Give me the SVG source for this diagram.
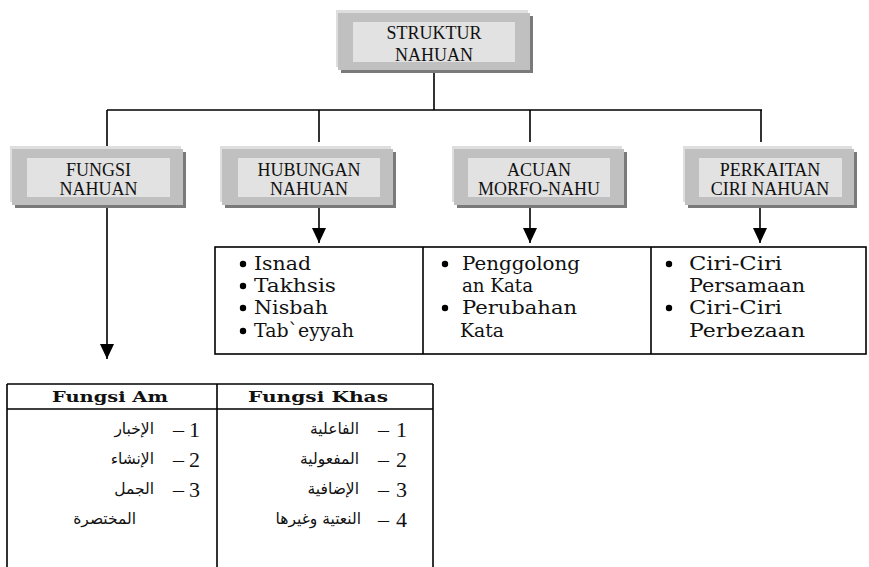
<svg xmlns="http://www.w3.org/2000/svg" width="869" height="567" viewBox="0 0 869 567">
<style>
.hl{fill:#dedede}
.md{fill:#c0c0c0}
.sh{fill:#7a7a7a}
.in{fill:#e2e2e2}
.bt{font-family:"Liberation Serif","Times New Roman",serif;font-size:18px;fill:#111;text-anchor:middle}
.ln{stroke:#000;stroke-width:1.6;fill:none}
.li{font-family:"DejaVu Serif",serif;font-size:18px;fill:#111}
.th{font-family:"DejaVu Serif",serif;font-size:15.5px;font-weight:bold;fill:#111;text-anchor:middle}
.num{font-family:"Liberation Serif",serif;font-size:22px;fill:#111;text-anchor:end}
.ar{font-family:"DejaVu Sans",sans-serif;font-size:15.5px;fill:#111;text-anchor:end}
.bl{fill:#000}
</style>
<defs>
<marker id="ah" viewBox="0 -7 15 14" refX="15" refY="0" markerWidth="15" markerHeight="14" markerUnits="userSpaceOnUse" orient="auto">
<path d="M0,-7 L15,0 L0,7 z" fill="#000"/>
</marker>
</defs>

<g id="connectors">
<path class="ln" d="M434,72 V110 M107,110 H762 M107,110 V149 M319,110 V142 M530,110 V142 M761,110 V142"/>
<path class="ln" d="M107,208 V359" marker-end="url(#ah)"/>
<path class="ln" d="M319,208 V243" marker-end="url(#ah)"/>
<path class="ln" d="M530,208 V243" marker-end="url(#ah)"/>
<path class="ln" d="M760,208 V243" marker-end="url(#ah)"/>
</g>

<g id="n-struktur">
<rect class="sh" x="341" y="16" width="192" height="57"/>
<rect class="hl" x="336" y="10" width="192" height="57"/>
<rect class="md" x="338" y="13" width="192" height="57"/>
<rect class="in" x="353" y="22" width="162" height="40"/>
<text class="bt" x="434" y="39">STRUKTUR</text>
<text class="bt" x="434" y="61">NAHUAN</text>
</g>

<g id="n-fungsi">
<rect class="sh" x="15" y="152" width="171" height="56"/>
<rect class="hl" x="10" y="146" width="171" height="56"/>
<rect class="md" x="12" y="149" width="171" height="56"/>
<rect class="in" x="27" y="158" width="143" height="39"/>
<text class="bt" x="98.5" y="176">FUNGSI</text>
<text class="bt" x="98.5" y="195">NAHUAN</text>
</g>

<g id="n-hubungan">
<rect class="sh" x="225" y="152" width="171" height="56"/>
<rect class="hl" x="220" y="146" width="171" height="56"/>
<rect class="md" x="222" y="149" width="171" height="56"/>
<rect class="in" x="238" y="158" width="142" height="39"/>
<text class="bt" x="309" y="176">HUBUNGAN</text>
<text class="bt" x="309" y="195">NAHUAN</text>
</g>

<g id="n-acuan">
<rect class="sh" x="457" y="152" width="170" height="56"/>
<rect class="hl" x="452" y="146" width="170" height="56"/>
<rect class="md" x="454" y="149" width="170" height="56"/>
<rect class="in" x="468" y="158" width="142" height="39"/>
<text class="bt" x="539" y="176">ACUAN</text>
<text class="bt" x="539" y="195">MORFO-NAHU</text>
</g>

<g id="n-perkaitan">
<rect class="sh" x="688" y="152" width="169" height="56"/>
<rect class="hl" x="683" y="146" width="169" height="56"/>
<rect class="md" x="685" y="149" width="169" height="56"/>
<rect class="in" x="699" y="158" width="143" height="39"/>
<text class="bt" x="770" y="176">PERKAITAN</text>
<text class="bt" x="770" y="195">CIRI NAHUAN</text>
</g>

<g id="n-list">
<rect class="ln" x="215" y="247" width="651" height="107"/>
<path class="ln" d="M423,247 V354 M651,247 V354"/>
<circle class="bl" cx="243" cy="264" r="3.2"/>
<circle class="bl" cx="243" cy="286" r="3.2"/>
<circle class="bl" cx="243" cy="308" r="3.2"/>
<circle class="bl" cx="243" cy="331" r="3.2"/>
<text class="li" x="254" y="270" textLength="57" lengthAdjust="spacingAndGlyphs">Isnad</text>
<text class="li" x="254" y="292" textLength="82" lengthAdjust="spacingAndGlyphs">Takhsis</text>
<text class="li" x="254" y="314" textLength="74" lengthAdjust="spacingAndGlyphs">Nisbah</text>
<text class="li" x="254" y="337" textLength="100" lengthAdjust="spacingAndGlyphs">Tab`eyyah</text>
<circle class="bl" cx="445" cy="264" r="3.2"/>
<circle class="bl" cx="445" cy="308" r="3.2"/>
<text class="li" x="462" y="270" textLength="118" lengthAdjust="spacingAndGlyphs">Penggolong</text>
<text class="li" x="462" y="292" textLength="71" lengthAdjust="spacingAndGlyphs">an Kata</text>
<text class="li" x="462" y="314" textLength="115" lengthAdjust="spacingAndGlyphs">Perubahan</text>
<text class="li" x="460" y="337" textLength="44" lengthAdjust="spacingAndGlyphs">Kata</text>
<circle class="bl" cx="669" cy="264" r="3.2"/>
<circle class="bl" cx="669" cy="308" r="3.2"/>
<text class="li" x="689" y="270" textLength="93" lengthAdjust="spacingAndGlyphs">Ciri-Ciri</text>
<text class="li" x="689" y="292" textLength="116" lengthAdjust="spacingAndGlyphs">Persamaan</text>
<text class="li" x="689" y="314" textLength="93" lengthAdjust="spacingAndGlyphs">Ciri-Ciri</text>
<text class="li" x="689" y="337" textLength="116" lengthAdjust="spacingAndGlyphs">Perbezaan</text>
</g>

<g id="n-table">
<path class="ln" d="M7,384 H433 M7,409 H433 M7,384 V567 M217,384 V567 M433,384 V567"/>
<text class="th" x="110" y="402" textLength="116" lengthAdjust="spacingAndGlyphs">Fungsi Am</text>
<text class="th" x="318" y="402" textLength="140" lengthAdjust="spacingAndGlyphs">Fungsi Khas</text>
<text class="num" x="200" y="437">1</text><text class="num" x="184" y="437">–</text><text class="ar" x="154" y="434">الإخبار</text>
<text class="num" x="200" y="467">2</text><text class="num" x="184" y="467">–</text><text class="ar" x="154" y="464">الإنشاء</text>
<text class="num" x="200" y="497">3</text><text class="num" x="184" y="497">–</text><text class="ar" x="154" y="494">الجمل</text>
<text class="ar" x="136" y="524">المختصرة</text>
<text class="num" x="407" y="437">1</text><text class="num" x="389" y="437">–</text><text class="ar" x="359" y="434">الفاعلية</text>
<text class="num" x="407" y="467">2</text><text class="num" x="389" y="467">–</text><text class="ar" x="359" y="464">المفعولية</text>
<text class="num" x="407" y="497">3</text><text class="num" x="389" y="497">–</text><text class="ar" x="359" y="494">الإضافية</text>
<text class="num" x="407" y="527">4</text><text class="num" x="389" y="527">–</text><text class="ar" x="361" y="524">النعتية وغيرها</text>
</g>
</svg>
